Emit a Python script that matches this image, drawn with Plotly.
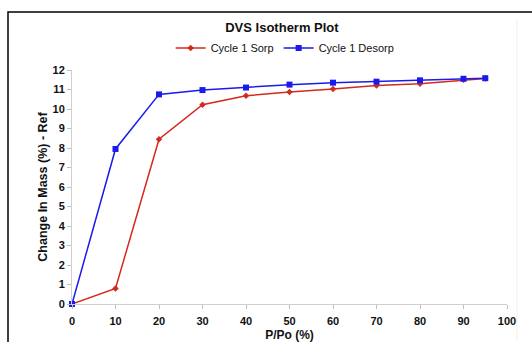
import plotly.graph_objects as go

x_sorp = [0, 10, 20, 30, 40, 50, 60, 70, 80, 90, 95]
y_sorp = [0, 0.8, 8.45, 10.22, 10.68, 10.87, 11.02, 11.2, 11.29, 11.5, 11.57]
x_desorp = [95, 90, 80, 70, 60, 50, 40, 30, 20, 10, 0]
y_desorp = [11.58, 11.55, 11.47, 11.4, 11.35, 11.25, 11.1, 10.97, 10.75, 7.95, 0]

FONT = "Liberation Sans, Arial, sans-serif"

fig = go.Figure()
fig.add_trace(go.Scatter(
    x=x_sorp, y=y_sorp, name="Cycle 1 Sorp", mode="lines+markers",
    line=dict(color="#d42a1c", width=1.5),
    marker=dict(symbol="diamond", size=5, color="#d42a1c"),
    cliponaxis=False,
))
fig.add_trace(go.Scatter(
    x=x_desorp, y=y_desorp, name="Cycle 1 Desorp", mode="lines+markers",
    line=dict(color="#1a1aee", width=1.5),
    marker=dict(symbol="square", size=6, color="#1a1aee"),
    cliponaxis=False,
))

fig.update_layout(
    width=532, height=342,
    margin=dict(l=72, r=25, t=70, b=38),
    paper_bgcolor="white", plot_bgcolor="white",
    font=dict(family=FONT, color="#111111", size=11),
    title=dict(text="<b>DVS Isotherm Plot</b>", x=0.53, xanchor="center",
               y=1 - 27 / 342, yanchor="middle", font=dict(size=13, family=FONT)),
    legend=dict(orientation="h", x=0.49, xanchor="center",
                y=1 + (70 - 48) / 234, yanchor="middle",
                font=dict(size=11, family=FONT), itemwidth=30,
                bgcolor="rgba(0,0,0,0)"),
    showlegend=True,
)
fig.update_xaxes(
    range=[0, 100], dtick=10, tick0=0, showgrid=False, zeroline=False,
    showline=True, linecolor="#cfcfcf", linewidth=1, automargin=False,
    ticks="outside", ticklen=4, tickcolor="#bfbfbf", ticklabelstandoff=3,
    tickfont=dict(size=11, family=FONT, weight="bold"),
    title=dict(text="<b>P/Po (%)</b>", font=dict(size=12, family=FONT), standoff=4),
)
fig.update_yaxes(
    range=[0, 12], dtick=1, tick0=0, showgrid=False, zeroline=False,
    showline=True, linecolor="#cfcfcf", linewidth=1, automargin=False,
    ticks="outside", ticklen=4, tickcolor="#bfbfbf",
    tickfont=dict(size=11, family=FONT, weight="bold"),
    title=dict(text="<b>Change In Mass (%) - Ref</b>", font=dict(size=12.5, family=FONT), standoff=2),
)

# outer frame (black border, partly cut off at right/bottom)
fig.add_shape(type="rect", xref="paper", yref="paper",
              x0=(8 - 72) / 435, x1=1.2, y0=-0.4, y1=1 + (70 - 12) / 234,
              line=dict(color="black", width=1.5), fillcolor="rgba(0,0,0,0)", layer="below")
# faint inner panel edge on the right
fig.add_shape(type="line", xref="paper", yref="paper",
              x0=(517 - 72) / 435, x1=(517 - 72) / 435, y0=-0.4, y1=1 + (70 - 18) / 234,
              line=dict(color="#f3efe2", width=1), layer="below")

fig.write_html("out.html")
